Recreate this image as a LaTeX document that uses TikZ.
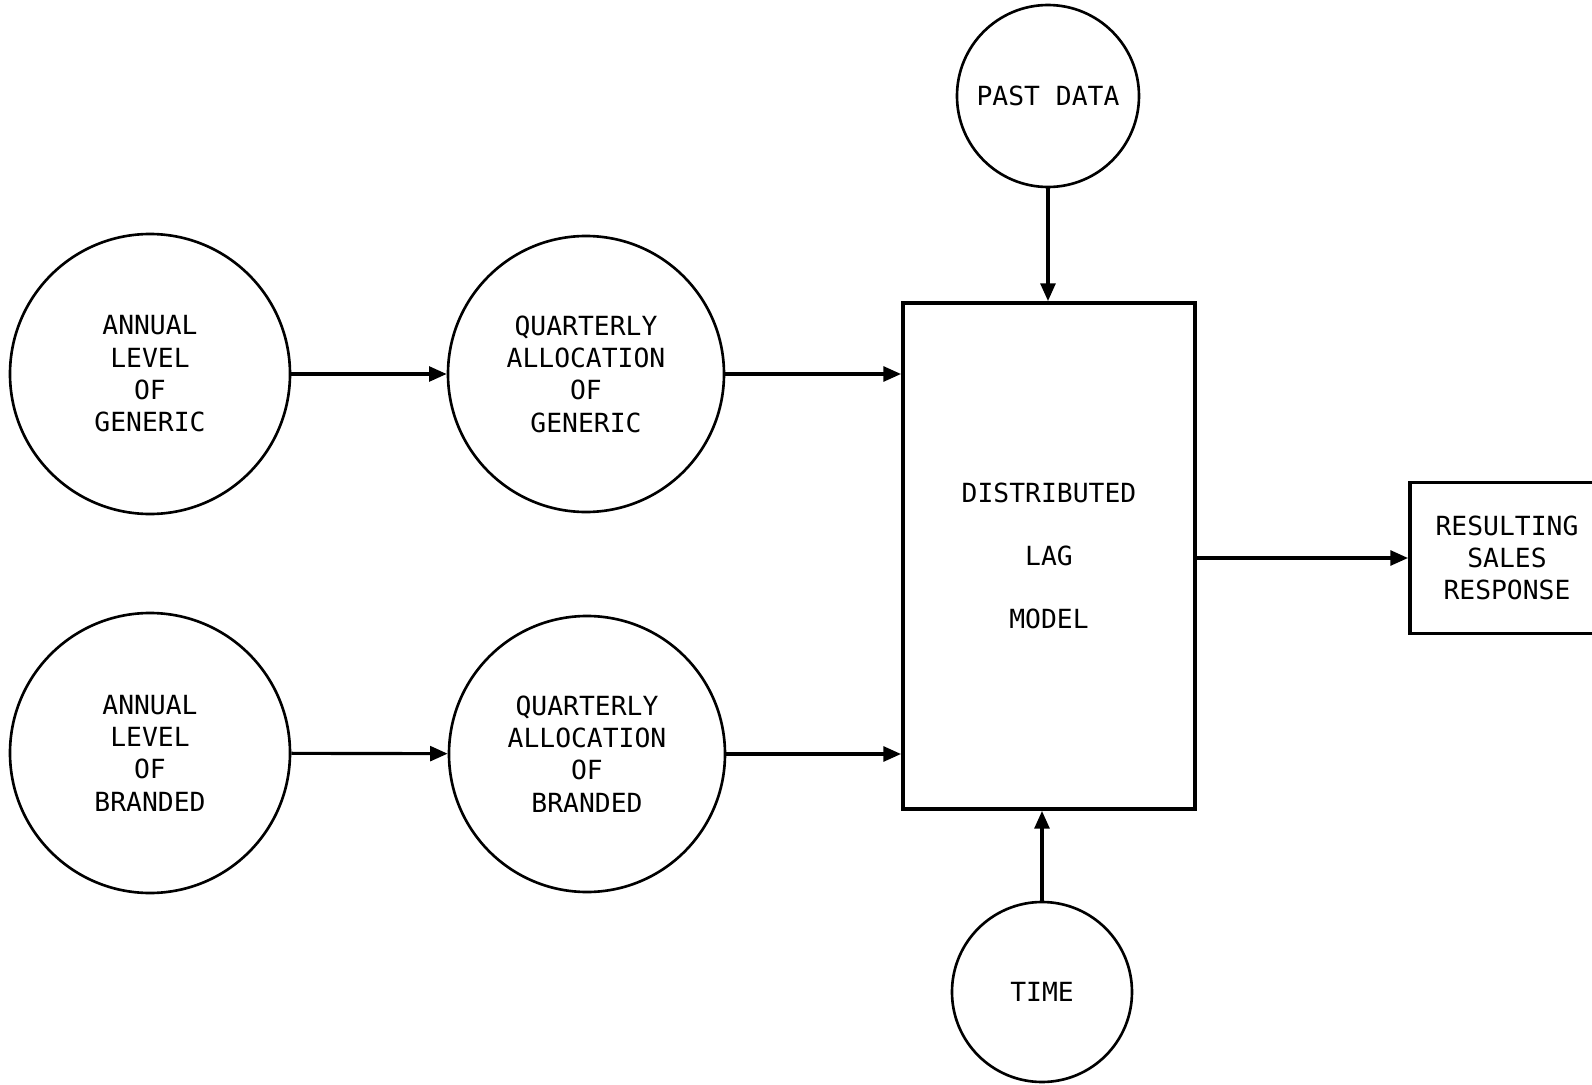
\documentclass[tikz,border=0pt]{standalone}
\usepackage{fontspec}
\setmonofont{DejaVu Sans Mono}
\usepackage{tikz}
\usetikzlibrary{arrows.meta}

\begin{document}
\begin{tikzpicture}[
  font=\ttfamily\fontsize{7.5}{9.2}\selectfont,
  bubble/.style={circle, draw, line width=0.75pt, align=center, inner sep=0pt},
  flow/.style={-{Triangle[length=5pt,width=4.2pt]}, line width=0.9pt},
  modelbox/.style={rectangle, draw, line width=1.1pt, align=center, inner sep=0pt}
]
\useasboundingbox (0,0) rectangle (15.92,10.84);
\node[bubble, minimum size=2.80cm] (ag) at (1.50,7.10) {ANNUAL\\LEVEL\\OF\\GENERIC};
\node[bubble, minimum size=2.76cm] (qg) at (5.86,7.10) {QUARTERLY\\ALLOCATION\\OF\\GENERIC};
\node[bubble, minimum size=2.80cm] (ab) at (1.50,3.31) {ANNUAL\\LEVEL\\OF\\BRANDED};
\node[bubble, minimum size=2.76cm] (qb) at (5.87,3.30) {QUARTERLY\\ALLOCATION\\OF\\BRANDED};
\node[bubble, minimum size=1.82cm] (past) at (10.48,9.88) {PAST DATA};
\node[bubble, minimum size=1.80cm] (time) at (10.42,0.92) {TIME};
\node[modelbox, minimum width=2.92cm, minimum height=5.06cm,
      font=\ttfamily\fontsize{7.5}{18}\selectfont] (dlm) at (10.49,5.28) {DISTRIBUTED\\LAG\\MODEL};
\node[modelbox, minimum width=1.94cm, minimum height=1.51cm] (res) at (15.07,5.26) {RESULTING\\SALES\\RESPONSE};

\draw[flow] (ag) -- (qg);
\draw[flow] (ab) -- (qb);
\draw[flow] (qg.east) -- (qg.east -| dlm.west);
\draw[flow] (qb.east) -- (qb.east -| dlm.west);
\draw[flow] (past) -- (past |- dlm.north);
\draw[flow] (time.north) -- (time.north |- dlm.south);
\draw[flow] (dlm.east |- res.west) -- (res.west);
\end{tikzpicture}
\end{document}
